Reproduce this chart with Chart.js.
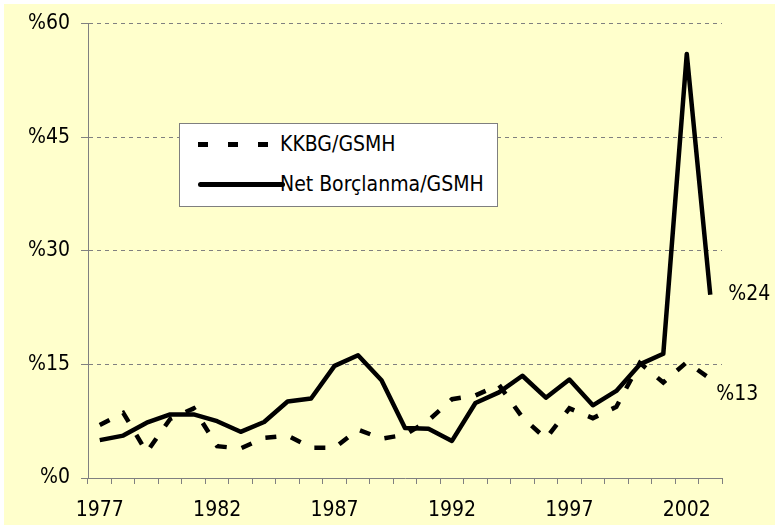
<!DOCTYPE html>
<html>
<head>
<meta charset="utf-8">
<script src="https://cdn.jsdelivr.net/npm/chart.js@4.4.1/dist/chart.umd.min.js"></script>
<style>
  html, body { margin: 0; padding: 0; background: #fff; }
  #wrap { position: relative; width: 775px; height: 525px; }
  #legend {
    position: absolute; left: 179px; top: 123px; width: 317px; height: 82px;
    background: #fff; border: 1px solid #7f7f7f;
    font: 21px 'DejaVu Sans Condensed', 'Liberation Sans', sans-serif; color: #000;
  }
  .row { position: absolute; left: 0; height: 24px; line-height: 24px; }
  .row span { position: absolute; left: 100px; white-space: nowrap; }
  .dash { position: absolute; top: 10px; width: 10px; height: 5px; background: #000; }
  .solid { position: absolute; left: 18px; top: 9.5px; width: 87px; height: 5px; background: #000; border-radius: 3px; }
</style>
</head>
<body>
<div id="wrap">
  <canvas id="chart" width="775" height="525"></canvas>
  <div id="legend">
    <div class="row" style="top:8px;">
      <div class="dash" style="left:18px;"></div>
      <div class="dash" style="left:48px;"></div>
      <div class="dash" style="left:78px;"></div>
      <span>KKBG/GSMH</span>
    </div>
    <div class="row" style="top:48px;">
      <div class="solid"></div>
      <span>Net Borçlanma/GSMH</span>
    </div>
  </div>
</div>
<script>
const years = ['1977', '1978', '1979', '1980', '1981', '1982', '1983', '1984', '1985', '1986',
               '1987', '1988', '1989', '1990', '1991', '1992', '1993', '1994', '1995', '1996',
               '1997', '1998', '1999', '2000', '2001', '2002', '2003'];
const kkbg = [7.0, 8.6, 3.4, 7.8, 9.2, 4.2, 3.9, 5.3, 5.6, 4.0,
              4.0, 6.4, 5.2, 5.7, 7.6, 10.4, 10.9, 12.3, 8.0, 5.2,
              9.2, 7.9, 9.4, 15.2, 12.6, 15.3, 13.1];
const netBorc = [5.0, 5.6, 7.3, 8.4, 8.4, 7.5, 6.1, 7.4, 10.1, 10.5,
                 14.8, 16.2, 12.9, 6.6, 6.5, 4.9, 9.9, 11.3, 13.5, 10.6,
                 13.0, 9.6, 11.5, 15.0, 16.4, 56.0, 24.2];
const yTicks = [0, 15, 30, 45, 60];

const FONT = "'DejaVu Sans Condensed', 'Liberation Sans', sans-serif";
const FONT_SIZE = 21;
const AXIS = '#808080';

// yellow page background, with the thin white strip on top/left
const bgPlugin = {
    id: 'bg',
    beforeDraw(chart) {
        const ctx = chart.ctx;
        ctx.save();
        ctx.fillStyle = '#ffffcc';
        ctx.fillRect(4, 4, chart.width - 4, chart.height - 4);
        ctx.restore();
    }
};

// value labels on the last point of each line
const endLabels = {
    id: 'endLabels',
    afterDatasetsDraw(chart) {
        const ctx = chart.ctx;
        ctx.save();
        ctx.font = FONT_SIZE + 'px ' + FONT;
        ctx.fillStyle = '#000';
        ctx.textAlign = 'left';
        ctx.textBaseline = 'middle';
        chart.data.datasets.forEach((ds, i) => {
            const meta = chart.getDatasetMeta(i);
            const last = meta.data[meta.data.length - 1];
            const v = ds.data[ds.data.length - 1];
            const off = ds.labelOffset;
            ctx.fillText('%' + Math.round(v), last.x + off[0], last.y + off[1]);
        });
        ctx.restore();
    }
};

new Chart(document.getElementById('chart'), {
    type: 'line',
    data: {
        labels: years,
        datasets: [{
            label: 'KKBG/GSMH',
            data: kkbg,
            borderColor: '#000',
            borderWidth: 4.5,
            borderDash: [11, 15],
            pointRadius: 0,
            tension: 0,
            labelOffset: [6, 16]
        }, {
            label: 'Net Borçlanma/GSMH',
            data: netBorc,
            borderColor: '#000',
            borderWidth: 4.5,
            borderJoinStyle: 'round',
            pointRadius: 0,
            tension: 0,
            labelOffset: [18, 0]
        }]
    },
    options: {
        responsive: false,
        animation: false,
        layout: { padding: { top: 22, right: 53, left: 0, bottom: 0 } },
        plugins: {
            legend: { display: false },
            tooltip: { enabled: false }
        },
        scales: {
            x: {
                offset: true,
                grid: {
                    offset: true,
                    drawOnChartArea: false,
                    tickLength: 6,
                    color: AXIS
                },
                border: { color: AXIS, width: 1 },
                ticks: {
                    autoSkip: false,
                    maxRotation: 0,
                    padding: 14,
                    color: '#000',
                    font: { family: FONT, size: FONT_SIZE },
                    callback: function(value, index) {
                        return index % 5 === 0 ? this.getLabelForValue(value) : '';
                    }
                },
                afterFit: function(scale) { scale.height = 47; }
            },
            y: {
                min: 0,
                max: 60,
                afterBuildTicks: function(scale) {
                    scale.ticks = yTicks.map(v => ({ value: v }));
                },
                grid: {
                    color: AXIS,
                    tickLength: 7,
                    tickColor: AXIS
                },
                border: { color: AXIS, width: 1, dash: [4, 4] },
                ticks: {
                    padding: 11,
                    color: '#000',
                    font: { family: FONT, size: FONT_SIZE },
                    callback: function(value) { return '%' + value; }
                },
                afterFit: function(scale) { scale.width = 88; }
            }
        }
    },
    plugins: [bgPlugin, endLabels]
});
</script>
</body>
</html>
